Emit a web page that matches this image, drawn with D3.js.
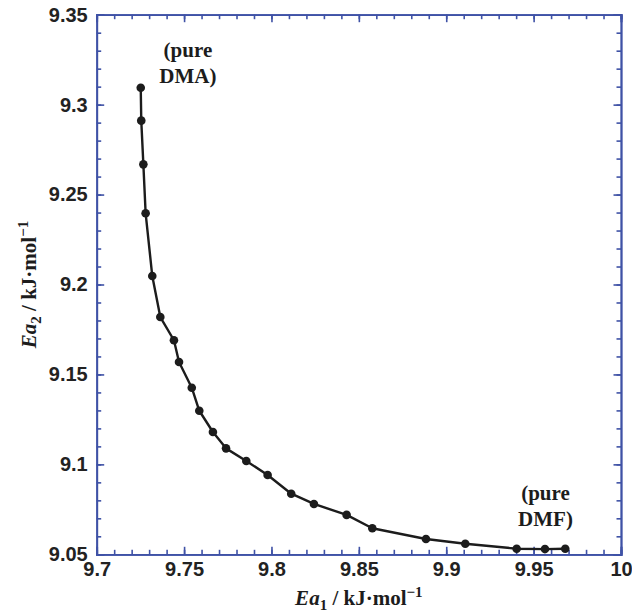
<!DOCTYPE html>
<html>
<head>
<meta charset="utf-8">
<script src="https://cdn.jsdelivr.net/npm/d3@7"></script>
<style>
  body { margin: 0; background: #fff; }
  .tick text { font-family: "Liberation Sans", Arial, sans-serif; font-weight: bold; font-size: 20px; fill: #222; }
</style>
</head>
<body>
<div id="chart"></div>
<script>
// Ea1 / Ea2 values, from pure DMA to pure DMF
var ea1 = [9.7252, 9.7255, 9.7267, 9.7280, 9.7318, 9.7364, 9.7442, 9.7471, 9.7544, 9.7587,
           9.7665, 9.7740, 9.7856, 9.7978, 9.8113, 9.8243, 9.8430, 9.8577, 9.8884, 9.9109,
           9.9403, 9.9565, 9.9681];
var ea2 = [9.3094, 9.2911, 9.2668, 9.2396, 9.2047, 9.1819, 9.1690, 9.1569, 9.1426, 9.1298,
           9.1180, 9.1089, 9.1019, 9.0941, 9.0837, 9.0780, 9.0719, 9.0645, 9.0585, 9.0559,
           9.0531, 9.0529, 9.0531];
var xTicks = [9.7, 9.75, 9.8, 9.85, 9.9, 9.95, 10];
var yTicks = [9.05, 9.1, 9.15, 9.2, 9.25, 9.3, 9.35];
// annotation anchors, in data units
var labels = [
  {lines: ["(pure", "DMA)"], x: 9.7522, y: 9.3267},
  {lines: ["(pure", "DMF)"], x: 9.9568, y: 9.0802}
];

var data = ea1.map(function(d, i) { return {x: d, y: ea2[i]}; });

var width = 632, height = 613;
var margin = {top: 14.7, right: 11, bottom: 58.7, left: 96.7};
var w = width - margin.left - margin.right;
var h = height - margin.top - margin.bottom;
var axisColor = "#3f52a6";
var ink = "#1c1c1c";

var x = d3.scaleLinear().domain([9.7, 10]).range([0, w]);
var y = d3.scaleLinear().domain([9.05, 9.35]).range([h, 0]);

var xMinor = d3.range(0, 31).map(function(i) { return +(9.7 + i * 0.01).toFixed(2); });
var yMinor = d3.range(0, 31).map(function(i) { return +(9.05 + i * 0.01).toFixed(2); });
var fmt = function(d) { return String(+d.toFixed(2)); };

var svg = d3.select("#chart").append("svg")
    .attr("width", width)
    .attr("height", height)
    .append("g")
    .attr("transform", "translate(" + margin.left + "," + margin.top + ")");

function styleAxis(g) {
    g.select(".domain").attr("stroke", axisColor).attr("stroke-width", 1.8);
    g.selectAll(".tick line").attr("stroke", axisColor).attr("stroke-width", 1.6);
}

// minor ticks
svg.append("g").attr("transform", "translate(0," + h + ")")
    .call(d3.axisBottom(x).tickValues(xMinor).tickSize(-4.5).tickFormat("")).call(styleAxis);
svg.append("g")
    .call(d3.axisTop(x).tickValues(xMinor).tickSize(-4.5).tickFormat("")).call(styleAxis);
svg.append("g")
    .call(d3.axisLeft(y).tickValues(yMinor).tickSize(-4.5).tickFormat("")).call(styleAxis);
svg.append("g").attr("transform", "translate(" + w + ",0)")
    .call(d3.axisRight(y).tickValues(yMinor).tickSize(-4.5).tickFormat("")).call(styleAxis);

// major ticks + labels
svg.append("g").attr("transform", "translate(0," + h + ")")
    .call(d3.axisBottom(x).tickValues(xTicks).tickSize(-7.5).tickPadding(8).tickFormat(fmt))
    .call(styleAxis)
    .selectAll(".tick text").attr("dy", "0.71em");
svg.append("g")
    .call(d3.axisTop(x).tickValues(xTicks).tickSize(-7.5).tickFormat("")).call(styleAxis);
svg.append("g")
    .call(d3.axisLeft(y).tickValues(yTicks).tickSize(-7.5).tickPadding(9).tickFormat(fmt))
    .call(styleAxis);
svg.append("g").attr("transform", "translate(" + w + ",0)")
    .call(d3.axisRight(y).tickValues(yTicks).tickSize(-7.5).tickFormat("")).call(styleAxis);

// curve
var line = d3.line()
    .x(function(d) { return x(d.x); })
    .y(function(d) { return y(d.y); });

svg.append("path")
    .datum(data)
    .attr("fill", "none")
    .attr("stroke", ink)
    .attr("stroke-width", 2.4)
    .attr("stroke-linejoin", "round")
    .attr("d", line);

svg.selectAll(".dot")
    .data(data)
    .enter().append("circle")
    .attr("class", "dot")
    .attr("cx", function(d) { return x(d.x); })
    .attr("cy", function(d) { return y(d.y); })
    .attr("r", 4.3)
    .attr("fill", ink);

// annotations
labels.forEach(function(l) {
    var t = svg.append("text")
        .attr("text-anchor", "middle")
        .style("font-family", "'Liberation Serif', 'Times New Roman', serif")
        .style("font-weight", "bold")
        .style("font-size", "21px")
        .attr("fill", ink);
    l.lines.forEach(function(s, i) {
        t.append("tspan")
            .attr("x", x(l.x))
            .attr("y", y(l.y) + i * 26.3)
            .text(s);
    });
});

// axis titles
function title(sel, sub) {
    sel.style("font-family", "'Liberation Serif', 'Times New Roman', serif")
        .style("font-weight", "bold")
        .style("font-size", "21px")
        .attr("fill", ink)
        .attr("text-anchor", "middle");
    sel.append("tspan").style("font-style", "italic").text("Ea");
    sel.append("tspan").attr("dy", 5).style("font-size", "15px").text(sub);
    sel.append("tspan").attr("dy", -5).text(" / kJ\u00b7mol");
    sel.append("tspan").attr("dy", -8).style("font-size", "15px").text("\u22121");
}

svg.append("text")
    .attr("x", w / 2)
    .attr("y", h + 51)
    .call(title, "1");

svg.append("text")
    .attr("transform", "translate(" + (36 - margin.left) + "," + (h / 2) + ") rotate(-90)")
    .call(title, "2");
</script>
</body>
</html>
